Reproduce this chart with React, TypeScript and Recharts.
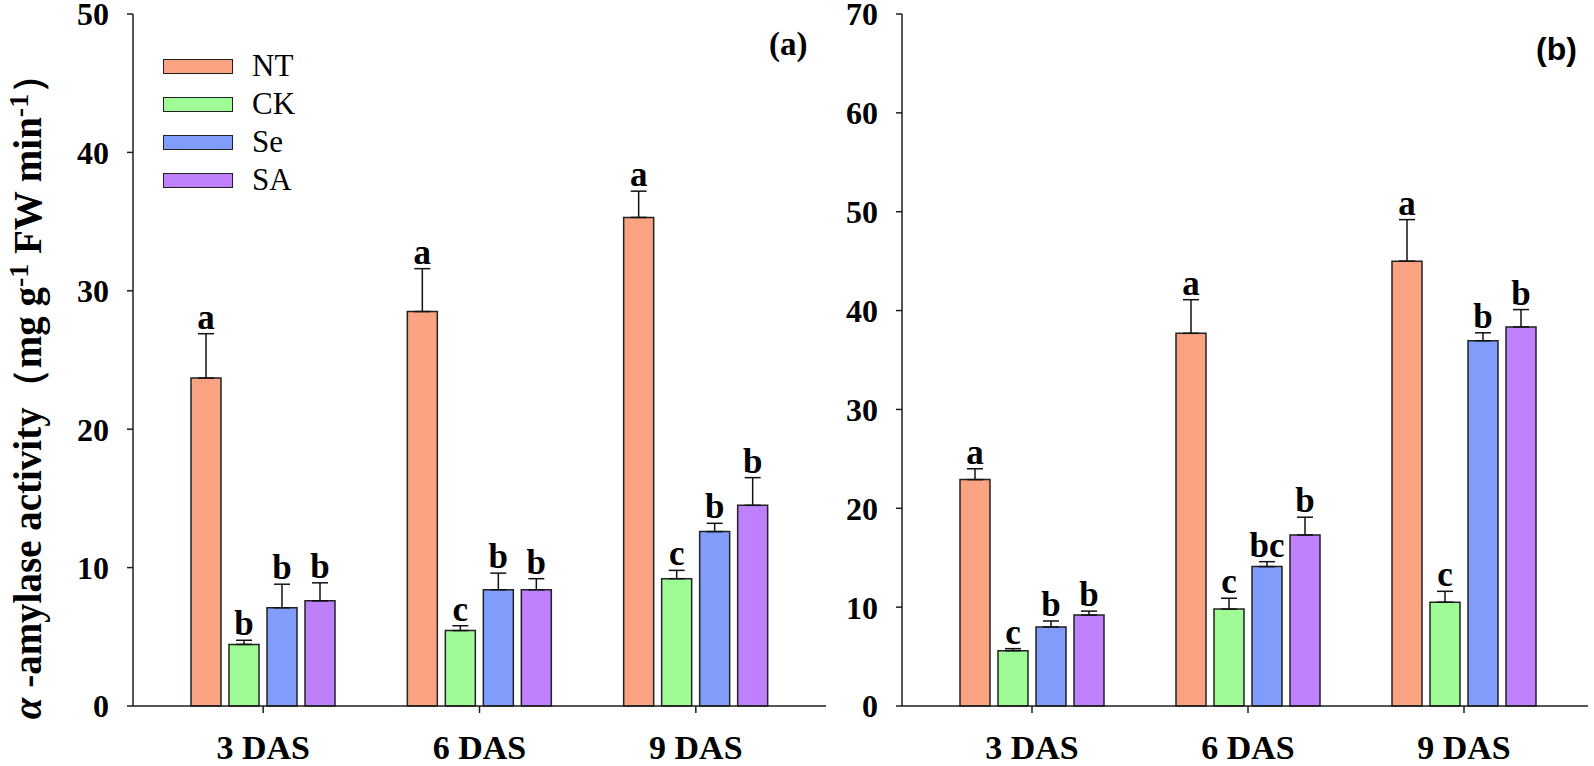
import React from 'react'
import { BarChart, Bar, XAxis, YAxis, ErrorBar, LabelList, Legend } from 'recharts'

const categories = ['3 DAS', '6 DAS', '9 DAS']
const seriesNames = ['NT', 'CK', 'Se', 'SA']
const seriesColors = ['#F9A382', '#9FFB95', '#809DFC', '#BF80FC']

// panel (a)
const ntA = [23.7, 28.5, 35.3]
const ntErrA = [3.2, 3.1, 1.9]
const ckA = [4.45, 5.45, 9.2]
const ckErrA = [0.3, 0.35, 0.6]
const seA = [7.1, 8.4, 12.6]
const seErrA = [1.7, 1.2, 0.6]
const saA = [7.6, 8.4, 14.5]
const saErrA = [1.3, 0.8, 2.0]
const lettersA = [
  ['a', 'a', 'a'],
  ['b', 'c', 'c'],
  ['b', 'b', 'b'],
  ['b', 'b', 'b'],
]
const ticksA = [0, 10, 20, 30, 40, 50]

// panel (b)
const ntB = [22.9, 37.7, 45.0]
const ntErrB = [1.1, 3.4, 4.2]
const ckB = [5.6, 9.8, 10.5]
const ckErrB = [0.2, 1.1, 1.1]
const seB = [8.0, 14.1, 36.95]
const seErrB = [0.6, 0.5, 0.8]
const saB = [9.2, 17.3, 38.35]
const saErrB = [0.4, 1.8, 1.75]
const lettersB = [
  ['a', 'a', 'a'],
  ['c', 'c', 'c'],
  ['b', 'bc', 'b'],
  ['b', 'b', 'b'],
]
const ticksB = [0, 10, 20, 30, 40, 50, 60, 70]

const serif = 'Liberation Serif, Times New Roman, serif'
const axisStroke = '#1e1e1e'

function buildRows(vals: number[][], errs: number[][]) {
  return categories.map((cat, i) => {
    const row: any = { cat }
    seriesNames.forEach((s, k) => {
      row[s] = vals[k][i]
      row[s + '_err'] = [0, errs[k][i]]
    })
    return row
  })
}

const dataA = buildRows([ntA, ckA, seA, saA], [ntErrA, ckErrA, seErrA, saErrA])
const dataB = buildRows([ntB, ckB, seB, saB], [ntErrB, ckErrB, seErrB, saErrB])

function makeLetter(letters: string[], errs: number[]) {
  return (props: any) => {
    const { x, y, width, height, value, index } = props
    const errPx = value ? (height / value) * errs[index] : 0
    return (
      <text
        x={x + width / 2}
        y={y - errPx - 5}
        textAnchor="middle"
        fontFamily={serif}
        fontWeight="bold"
        fontSize={35}
        fill="#000"
      >
        {letters[index]}
      </text>
    )
  }
}

const LegendBox = (props: any) => {
  const items = [...(props.payload || [])].sort(
    (a: any, b: any) => seriesNames.indexOf(a.value) - seriesNames.indexOf(b.value)
  )
  return (
    <div style={{ fontFamily: serif, fontSize: 31, color: '#000' }}>
      {items.map((p: any) => (
        <div key={p.value} style={{ display: 'flex', alignItems: 'center', height: 38 }}>
          <div
            style={{
              width: 68,
              height: 13,
              background: p.color,
              border: '1.5px solid #222',
              marginRight: 19,
            }}
          />
          <span>{p.value}</span>
        </div>
      ))}
    </div>
  )
}

const YLabel = () => (
  <text
    transform="translate(41, 387) rotate(-90)"
    textAnchor="middle"
    fontFamily={serif}
    fontWeight="bold"
    fontSize={39}
    fill="#000"
  >
    <tspan fontStyle="italic">α</tspan>
    <tspan> -amylase activity（mg g</tspan>
    <tspan fontSize={28} dy={-13}>-1</tspan>
    <tspan dy={13}> FW min</tspan>
    <tspan fontSize={28} dy={-13}>-1</tspan>
    <tspan dy={13}>）</tspan>
  </text>
)

interface PanelProps {
  data: any[]
  max: number
  ticks: number[]
  letters: string[][]
  errs: number[][]
  width: number
  marginLeft: number
  marginRight: number
  padRight: number
  showLegend: boolean
  yLabel: boolean
}

function Panel(p: PanelProps) {
  const yTick = { fontFamily: serif, fontWeight: 'bold', fontSize: 32, fill: '#000' }
  const xTick = { fontFamily: serif, fontWeight: 'bold', fontSize: 34, fill: '#000' }
  return (
    <BarChart
      width={p.width}
      height={766}
      data={p.data}
      margin={{ top: 14, right: p.marginRight, bottom: 20, left: p.marginLeft }}
      barSize={30}
      barGap={8}
    >
      <XAxis
        dataKey="cat"
        xAxisId="b"
        tick={xTick as any}
        tickSize={7}
        tickMargin={22}
        height={40}
        stroke={axisStroke}
        strokeWidth={1.5}
        padding={{ left: 22, right: p.padRight }}
        interval={0}
      />
      <XAxis
        dataKey="cat"
        xAxisId="t"
        orientation="top"
        tick={false}
        tickLine={false}
        height={0}
        stroke={axisStroke}
        strokeWidth={1.5}
      />
      <YAxis
        yAxisId="l"
        domain={[0, p.max]}
        ticks={p.ticks}
        tick={yTick as any}
        tickSize={6}
        tickMargin={18}
        width={60}
        stroke={axisStroke}
        strokeWidth={1.5}
        interval={0}
        label={p.yLabel ? { content: () => <YLabel /> } : undefined}
      />
      <YAxis
        yAxisId="r"
        orientation="right"
        domain={[0, p.max]}
        tick={false}
        tickLine={false}
        width={0}
        stroke={axisStroke}
        strokeWidth={1.5}
      />
      {p.showLegend && (
        <Legend
          layout="vertical"
          verticalAlign="middle"
          align="center"
          content={<LegendBox />}
          wrapperStyle={{ left: 163, top: 47, width: 200 }}
        />
      )}
      {seriesNames.map((s, k) => (
        <Bar
          key={s}
          dataKey={s}
          name={s}
          xAxisId="b"
          yAxisId="l"
          fill={seriesColors[k]}
          stroke="#222"
          strokeWidth={1.5}
          isAnimationActive={false}
        >
          <ErrorBar dataKey={s + '_err'} direction="y" width={8} stroke="#111" strokeWidth={1.5} />
          <LabelList dataKey={s} content={makeLetter(p.letters[k], p.errs[k])} />
        </Bar>
      ))}
    </BarChart>
  )
}

export default function App() {
  return (
    <div style={{ position: 'absolute', left: 0, top: 0, width: 1594, height: 766, background: '#fff' }}>
      <div style={{ position: 'absolute', left: 0, top: 0 }}>
        <Panel
          data={dataA}
          max={50}
          ticks={ticksA}
          letters={lettersA}
          errs={[ntErrA, ckErrA, seErrA, saErrA]}
          width={860}
          marginLeft={73}
          marginRight={34}
          padRight={22}
          showLegend
          yLabel
        />
      </div>
      <div style={{ position: 'absolute', left: 800, top: 0 }}>
        <Panel
          data={dataB}
          max={70}
          ticks={ticksB}
          letters={lettersB}
          errs={[ntErrB, ckErrB, seErrB, saErrB]}
          width={794}
          marginLeft={42}
          marginRight={6}
          padRight={16}
          showLegend={false}
          yLabel={false}
        />
      </div>
      <div
        style={{
          position: 'absolute',
          left: 769,
          top: 24,
          fontFamily: serif,
          fontWeight: 'bold',
          fontSize: 33,
          lineHeight: '40px',
        }}
      >
        (a)
      </div>
      <div
        style={{
          position: 'absolute',
          left: 1536,
          top: 29,
          fontFamily: 'Liberation Sans, Arial, sans-serif',
          fontWeight: 'bold',
          fontSize: 32,
          lineHeight: '40px',
        }}
      >
        (b)
      </div>
    </div>
  )
}
